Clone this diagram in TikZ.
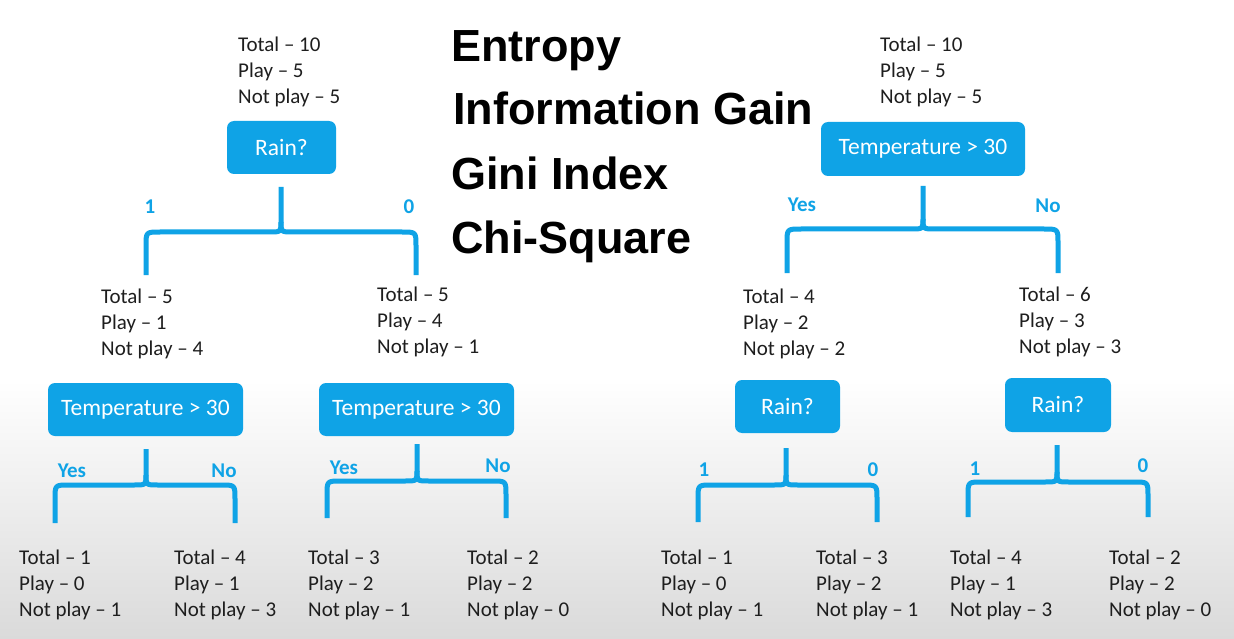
\documentclass[tikz,border=0pt]{standalone}
\usepackage{fontspec}
\setmainfont{Carlito}
\newfontfamily\bigfont{Liberation Sans}
\definecolor{nodeblue}{HTML}{0FA3E6}
\definecolor{bgray}{HTML}{DADADA}
\definecolor{txt}{HTML}{1E1E1E}

\newcommand\infotext[6]{%
  \node[info] (#1-t) at (#2,#3) {Total \textendash\ #4};
  \node[info] (#1-p) at (#2,#3+26) {Play \textendash\ #5};
  \node[info] (#1-n) at (#2,#3+52) {Not play \textendash\ #6};
}
\newcommand\splitbrace[6]{%
  \draw[brc] (#1,#2) -- (#1,#3-10) .. controls (#1,#3) .. (#1-12,#3) -- (#4+14,#3) .. controls (#4,#3) .. (#4,#3+14) -- (#4,#6);
  \draw[brc] (#1,#3-10) .. controls (#1,#3) .. (#1+12,#3) -- (#5-14,#3) .. controls (#5,#3) .. (#5,#3+14) -- (#5,#6);
}

\begin{document}
\begin{tikzpicture}[x=1pt,y=-1pt,
  info/.style={anchor=base west, inner sep=0, text=txt, font=\fontsize{21}{24}\selectfont},
  box/.style={fill=nodeblue, rounded corners=7pt, text=white, inner sep=0, font=\fontsize{23.5}{26}\selectfont},
  lbl/.style={text=nodeblue, inner sep=0, font=\bfseries\fontsize{21}{24}\selectfont},
  brc/.style={draw=nodeblue, line width=5pt, line join=round},
  big/.style={anchor=base west, inner sep=0, text=black, font=\bigfont\bfseries\fontsize{45}{50}\selectfont}]
\useasboundingbox (0,0) rectangle (1234,639);
\fill[white] (0,0) rectangle (1234,639);
\shade[top color=white, bottom color=bgray] (0,380) rectangle (1234,639);

% headline text
\node[big] (entropy) at (451,62) {Entropy};
\node[big] (infogain) at (453,125) {Information Gain};
\node[big] (gini) at (451,190) {Gini Index};
\node[big] (chi) at (451,254) {Chi-Square};

% ---------- left tree ----------
\infotext{rootL}{238}{52}{10}{5}{5}
\node[box, minimum width=109pt, minimum height=53pt] (rainL) at (281.5,147.5) {Rain?};
\splitbrace{281}{187}{232}{146}{416}{275}
\node[lbl] (l1) at (150,207) {1};
\node[lbl] (l0) at (409,207) {0};

\infotext{L1}{101}{303}{5}{1}{4}
\infotext{L0}{377}{301}{5}{4}{1}

\node[box, minimum width=195pt, minimum height=53pt] (tempL) at (145.5,409.5) {Temperature > 30};
\node[box, minimum width=195pt, minimum height=53pt] (tempM) at (416.5,409.5) {Temperature > 30};

\splitbrace{146}{449}{485}{55}{235}{523}
\node[lbl] (ly1) at (72,471) {Yes};
\node[lbl] (ln1) at (224,471) {No};
\splitbrace{417}{444}{481}{327}{506}{518}
\node[lbl] (ly2) at (344,468) {Yes};
\node[lbl] (ln2) at (498,466) {No};

\infotext{LL1}{19}{564}{1}{0}{1}
\infotext{LL2}{174}{564}{4}{1}{3}
\infotext{LL3}{308}{564}{3}{2}{1}
\infotext{LL4}{467}{564}{2}{2}{0}

% ---------- right tree ----------
\infotext{rootR}{880}{52}{10}{5}{5}
\node[box, minimum width=204pt, minimum height=54pt] (tempR) at (923,149) {Temperature > 30};
\splitbrace{923}{186}{229}{787}{1058}{273}
\node[lbl] (ry) at (802,205) {Yes};
\node[lbl] (rn) at (1048,206) {No};

\infotext{RY}{743}{303}{4}{2}{2}
\infotext{RN}{1019}{301}{6}{3}{3}

\node[box, minimum width=105pt, minimum height=53pt] (rainRL) at (787.5,406.5) {Rain?};
\node[box, minimum width=106pt, minimum height=54pt] (rainRR) at (1058,405) {Rain?};

\splitbrace{786}{448}{485}{698}{877}{522}
\node[lbl] (r11) at (704,470) {1};
\node[lbl] (r10) at (873,470) {0};
\splitbrace{1057}{445}{482}{968}{1148}{517}
\node[lbl] (r21) at (975,469) {1};
\node[lbl] (r20) at (1143,466) {0};

\infotext{RL1}{661}{564}{1}{0}{1}
\infotext{RL2}{816}{564}{3}{2}{1}
\infotext{RL3}{950}{564}{4}{1}{3}
\infotext{RL4}{1109}{564}{2}{2}{0}
\end{tikzpicture}
\end{document}
